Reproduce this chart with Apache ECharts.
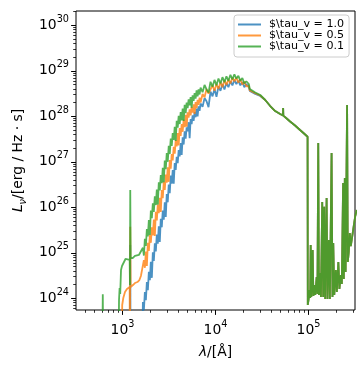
<!DOCTYPE html>
<html><head><meta charset="utf-8">
<script src="https://cdn.jsdelivr.net/npm/echarts@6/dist/echarts.min.js"></script>
<style>html,body{margin:0;padding:0;background:#fff}#c{width:364px;height:372px}</style>
</head><body><div id="c"></div>
<script>
// Data: [log10(wavelength / Angstrom), log10(L_nu / erg Hz^-1 s^-1)]
const seriesNames = ['$\\tau_v = 1.0', '$\\tau_v = 0.5', '$\\tau_v = 0.1'];
const seriesColors = ['#1f77b4', '#ff7f0e', '#2ca02c'];

const sedTau10 = [
  [2.900,22],[3.0770,22],[3.0834,25.171],[3.0877,22],[3.2085,22],
  [3.2192,23.92],[3.2299,23.74],[3.2406,24.14],[3.2513,23.96],[3.2620,24.36],[3.2727,24.18],
  [3.2834,24.58],[3.2941,24.40],[3.3048,24.80],[3.3155,24.45],[3.3262,25.01],[3.3369,24.82],
  [3.3476,25.21],[3.3583,25.03],[3.3690,25.40],[3.3796,25.20],[3.3903,25.58],[3.4010,25.24],
  [3.4117,25.75],[3.4224,25.56],[3.4331,25.93],[3.4438,25.73],[3.4545,26.11],[3.4652,25.79],
  [3.4759,26.29],[3.4866,26.11],[3.4973,26.50],[3.5080,26.31],[3.5187,26.70],[3.5294,26.52],
  [3.5401,26.82],[3.5508,26.52],[3.5615,26.97],[3.5722,26.82],[3.5829,27.11],[3.5936,26.97],
  [3.6042,27.26],[3.6149,27.12],[3.6256,27.41],[3.6363,27.15],[3.6470,27.54],[3.6577,27.38],
  [3.6684,27.67],[3.6791,27.51],[3.6898,27.76],[3.7005,27.67],[3.7112,27.87],[3.7219,27.52],
  [3.7326,27.94],[3.7433,27.83],[3.7540,28.02],[3.7647,27.90],[3.7754,28.09],[3.7861,27.98],
  [3.7968,28.17],[3.8075,28.00],[3.8181,28.22],[3.8288,28.12],[3.8395,28.28],
  [3.8609,28.21],[3.8823,28.40],[3.9037,28.33],[3.9251,28.20],[3.9465,28.54],[3.9679,28.44],
  [3.9892,28.60],[4.0106,28.43],[4.0320,28.66],[4.0534,28.56],[4.0748,28.71],[4.0962,28.59],
  [4.1176,28.73],[4.1390,28.64],[4.1604,28.77],[4.1818,28.68],[4.2032,28.80],[4.2245,28.71],
  [4.2459,28.78],[4.2673,28.68],[4.2887,28.75],[4.3101,28.64],[4.3315,28.71],
  [4.3582,28.644],[4.3689,28.556],[4.3850,28.523],[4.4278,28.490],[4.4812,28.446]
];
const sedTau05 = [
  [2.900,22],[2.9893,22],[2.9968,23.853],[3.0085,24.007],[3.0267,24.139],[3.0481,24.204],[3.0770,24.248],
  [3.0802,22],[3.0834,25.574],[3.0877,24.248],[3.1123,24.292],[3.1337,24.336],[3.1604,24.358],
  [3.1818,24.402],[3.1979,24.490],
  [3.2192,24.51],[3.2299,24.84],[3.2406,24.67],[3.2513,25.03],[3.2620,24.71],[3.2727,25.22],
  [3.2834,25.04],[3.2941,25.39],[3.3048,25.22],[3.3155,25.56],[3.3262,25.38],[3.3369,25.73],
  [3.3476,25.37],[3.3583,25.90],[3.3690,25.71],[3.3796,26.06],[3.3903,25.87],[3.4010,26.21],
  [3.4117,25.90],[3.4224,26.38],[3.4331,26.20],[3.4438,26.56],[3.4545,26.38],[3.4652,26.72],
  [3.4759,26.54],[3.4866,26.88],[3.4973,26.56],[3.5080,27.04],[3.5187,26.85],[3.5294,27.17],
  [3.5401,27.03],[3.5508,27.33],[3.5615,27.18],[3.5722,27.48],[3.5829,27.34],[3.5936,27.63],
  [3.6042,27.36],[3.6149,27.74],[3.6256,27.57],[3.6363,27.83],[3.6470,27.66],[3.6577,27.93],
  [3.6684,27.76],[3.6791,28.03],[3.6898,27.77],[3.7005,28.09],[3.7112,27.97],[3.7219,28.15],
  [3.7326,28.02],[3.7433,28.20],[3.7540,28.08],[3.7647,28.26],[3.7754,28.05],[3.7861,28.31],
  [3.7968,28.18],[3.8075,28.36],[3.8181,28.25],[3.8288,28.41],[3.8395,28.30],
  [3.8609,28.49],[3.8823,28.42],[3.9037,28.60],[3.9251,28.50],[3.9465,28.46],[3.9679,28.68],
  [3.9892,28.56],[4.0106,28.71],[4.0320,28.60],[4.0534,28.75],[4.0748,28.64],[4.0962,28.79],
  [4.1176,28.69],[4.1390,28.81],[4.1604,28.72],[4.1818,28.85],[4.2032,28.77],[4.2245,28.85],
  [4.2459,28.74],[4.2673,28.81],[4.2887,28.70],[4.3101,28.76],[4.3315,28.66],
  [4.3582,28.666],[4.3689,28.567],[4.3850,28.545],[4.4278,28.506],[4.4812,28.457]
];
const sedTau01 = [
  [2.700,22],[2.780,22],[2.788,24.09],[2.796,22],
  [2.954,22],[2.9626,23.963],[2.9690,24.226],[2.9754,24.095],[2.9840,24.622],[2.9947,24.710],
  [3.0053,24.754],[3.0160,24.798],[3.0321,24.864],[3.0535,24.886],[3.0770,24.842],[3.0802,24.292],
  [3.0834,26.380],[3.0877,24.886],[3.1123,24.886],[3.1337,24.930],[3.1551,24.908],[3.1765,24.952],
  [3.1979,24.952],
  [3.2192,25.11],[3.2299,24.94],[3.2406,25.31],[3.2513,25.15],[3.2620,25.52],[3.2727,25.36],
  [3.2834,25.72],[3.2941,25.39],[3.3048,25.93],[3.3155,25.76],[3.3262,26.09],[3.3369,25.90],
  [3.3476,26.24],[3.3583,26.05],[3.3690,26.39],[3.3796,26.06],[3.3903,26.55],[3.4010,26.37],
  [3.4117,26.71],[3.4224,26.53],[3.4331,26.87],[3.4438,26.55],[3.4545,27.03],[3.4652,26.84],
  [3.4759,27.19],[3.4866,27.00],[3.4973,27.35],[3.5080,27.17],[3.5187,27.51],[3.5294,27.35],
  [3.5401,27.63],[3.5508,27.48],[3.5615,27.77],[3.5722,27.46],[3.5829,27.90],[3.5936,27.75],
  [3.6042,28.01],[3.6149,27.83],[3.6256,28.09],[3.6363,27.91],[3.6470,28.17],[3.6577,27.90],
  [3.6684,28.25],[3.6791,28.07],[3.6898,28.30],[3.7005,28.18],[3.7112,28.37],[3.7219,28.24],
  [3.7326,28.42],[3.7433,28.19],[3.7540,28.46],[3.7647,28.34],[3.7754,28.51],[3.7861,28.39],
  [3.7968,28.57],[3.8075,28.44],[3.8181,28.59],[3.8288,28.48],[3.8395,28.63],
  [3.8609,28.53],[3.8823,28.69],[3.9037,28.59],[3.9251,28.52],[3.9465,28.76],[3.9679,28.65],
  [3.9892,28.80],[4.0106,28.68],[4.0320,28.83],[4.0534,28.72],[4.0748,28.86],[4.0962,28.75],
  [4.1176,28.88],[4.1390,28.78],[4.1604,28.91],[4.1818,28.81],[4.2032,28.92],[4.2245,28.83],
  [4.2459,28.89],[4.2673,28.78],[4.2887,28.84],[4.3101,28.72],[4.3315,28.77],
  [4.3582,28.710],[4.3689,28.600],[4.3850,28.567],[4.4278,28.523],[4.4812,28.468]
];
// shared long-wavelength part (the three curves coincide here)
const sedTail = [
  [4.5347,28.358],[4.5882,28.226],[4.6416,28.116],[4.6951,28.051],[4.7250,28.018],[4.7272,28.182],
  [4.7294,28.015],[4.7593,27.963],[4.8020,27.886],[4.8555,27.798],[4.9090,27.699],[4.9518,27.622],
  [4.9900,27.550],[4.9924,23.853],[5.0031,24.007],[5.0117,24.182],[5.0181,24.007],[5.0235,25.171],
  [5.0299,24.029],[5.0374,24.402],[5.0449,25.062],[5.0524,24.051],[5.0641,24.292],[5.0727,24.073],
  [5.0877,24.468],[5.0962,24.095],[5.1048,27.413],[5.1123,24.073],[5.1230,24.556],[5.1337,24.029],
  [5.1476,26.116],[5.1583,24.029],[5.1690,26.014],[5.1797,23.985],[5.1947,26.205],[5.2043,23.985],
  [5.2193,25.281],[5.2300,23.985],[5.2482,27.193],[5.2578,24.029],[5.2663,25.215],[5.2770,24.073],
  [5.2941,24.622],[5.3048,24.139],[5.3209,24.798],[5.3326,24.204],[5.3476,24.512],[5.3583,24.314],
  [5.3722,26.534],[5.3797,24.424],[5.3904,26.644],[5.3990,24.578],[5.4150,28.248],[5.4225,24.798],
  [5.4332,25.018],[5.4439,25.435],[5.4546,25.149],[5.4707,25.369],[5.4867,25.589],[5.5028,25.809],
  [5.5187,25.941]
];

const xMajorTicks = [1e3, 1e4, 1e5];
const yMajorTicks = [1e24, 1e25, 1e26, 1e27, 1e28, 1e29, 1e30];
const X_MIN = Math.pow(10, 2.5), X_MAX = Math.pow(10, 5.5);
const Y_MIN = Math.pow(10, 23.743), Y_MAX = Math.pow(10, 30.314);

function minorTicks(lo, hi, min, max) {
  const out = [];
  for (let e = lo; e <= hi; e++) for (let k = 2; k <= 9; k++) {
    const v = k * Math.pow(10, e);
    if (v > min && v < max) out.push(v);
  }
  return out;
}
const xMinorTicks = minorTicks(2, 5, X_MIN, X_MAX);
const yMinorTicks = minorTicks(23, 30, Y_MIN, Y_MAX);

const toData = arr => arr.map(p => [Math.pow(10, p[0]), Math.pow(10, p[1])]);
const sets = [sedTau10.concat(sedTail), sedTau05.concat(sedTail), sedTau01.concat(sedTail)];

const FAM = 'DejaVu Sans';
const FS = 13.9;
const tickRich = {
  b: { fontSize: FS, lineHeight: 22, fontFamily: FAM, color: '#000' },
  s: { fontSize: 9.7, lineHeight: 12, fontFamily: FAM, color: '#000', verticalAlign: 'top' }
};
const fmtPow = v => '{b|10}{s|' + Math.round(Math.log10(v)) + '}';

const chart = echarts.init(document.getElementById('c'), null, { renderer: 'canvas' });
chart.setOption({
  animation: false,
  backgroundColor: '#fff',
  color: seriesColors,
  grid: { left: 75, right: 9, top: 11, bottom: 62, show: true, borderColor: '#000', borderWidth: 1, backgroundColor: 'transparent' },
  legend: {
    orient: 'vertical', left: 234, top: 15, selectedMode: false,
    icon: 'rect', itemWidth: 23, itemHeight: 2, itemGap: 0,
    padding: [4, 5, 5, 4],
    backgroundColor: 'rgba(255,255,255,0.8)', borderColor: '#cccccc', borderWidth: 1, borderRadius: 3,
    textStyle: { fontFamily: FAM, fontSize: 11.1, lineHeight: 11, color: '#000', padding: [0, 0, 0, 3] },
    data: seriesNames
  },
  xAxis: [{
    type: 'log', logBase: 10, min: X_MIN, max: X_MAX,
    axisLine: { show: false },
    splitLine: { show: false }, minorTick: { show: false },
    axisTick: { show: true, inside: false, length: 4.9, lineStyle: { color: '#000', width: 1 }, customValues: xMajorTicks },
    axisLabel: { customValues: xMajorTicks, formatter: fmtPow, rich: tickRich, margin: 9 },
    name: '{i|λ}/[Å]', nameLocation: 'middle', nameGap: 35,
    nameTextStyle: { fontFamily: FAM, fontSize: FS, color: '#000', rich: { i: { fontFamily: FAM, fontSize: FS, fontStyle: 'italic', color: '#000' } } }
  }, {
    type: 'log', logBase: 10, min: X_MIN, max: X_MAX, position: 'bottom',
    axisLine: { show: false }, splitLine: { show: false }, axisLabel: { show: false },
    axisTick: { show: true, inside: false, length: 2.8, lineStyle: { color: '#000', width: 0.8 }, customValues: xMinorTicks }
  }],
  yAxis: [{
    type: 'log', logBase: 10, min: Y_MIN, max: Y_MAX,
    axisLine: { show: false },
    splitLine: { show: false }, minorTick: { show: false },
    axisTick: { show: true, inside: false, length: 4.9, lineStyle: { color: '#000', width: 1 }, customValues: yMajorTicks },
    axisLabel: { customValues: yMajorTicks, formatter: fmtPow, rich: tickRich, margin: 7 },
    name: '{i|L}{sub|ν}/[erg / Hz · s]', nameLocation: 'middle', nameGap: 48,
    nameTextStyle: { fontFamily: FAM, fontSize: FS, color: '#000', lineHeight: 20,
      rich: { i: { fontFamily: FAM, fontSize: FS, fontStyle: 'italic', color: '#000', lineHeight: 20 },
              sub: { fontFamily: FAM, fontSize: 9.7, fontStyle: 'italic', color: '#000', lineHeight: 13, verticalAlign: 'bottom' } } }
  }, {
    type: 'log', logBase: 10, min: Y_MIN, max: Y_MAX, position: 'left',
    axisLine: { show: false }, splitLine: { show: false }, axisLabel: { show: false },
    axisTick: { show: true, inside: false, length: 2.8, lineStyle: { color: '#000', width: 0.8 }, customValues: yMinorTicks }
  }],
  series: sets.map((s, i) => ({
    name: seriesNames[i], type: 'line', xAxisIndex: 0, yAxisIndex: 0,
    data: toData(s), showSymbol: false, symbol: 'none', clip: true,
    lineStyle: { width: 1.8, opacity: 0.8, color: seriesColors[i] },
    itemStyle: { color: seriesColors[i], opacity: 0.8 },
    emphasis: { disabled: true }, z: 2 + i
  }))
});
</script></body></html>
